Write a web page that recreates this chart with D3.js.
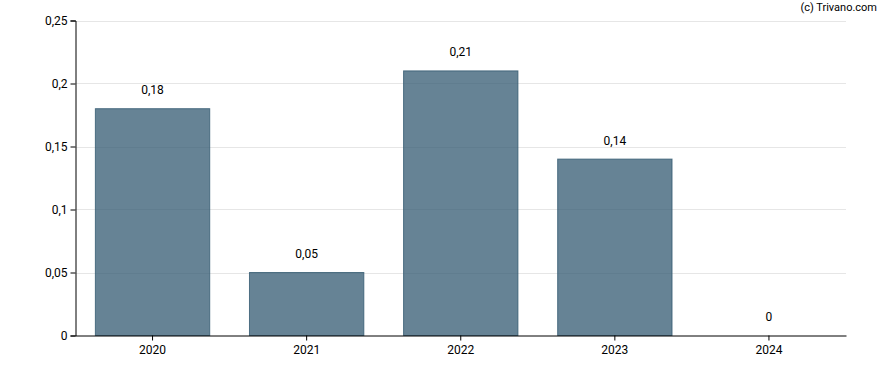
<!DOCTYPE html>
<html><head><meta charset="utf-8">
<script src="https://cdn.jsdelivr.net/npm/d3@7"></script>
<style>body{margin:0;background:#fff}svg{display:block;font-family:Roboto,sans-serif}</style>
</head><body>
<svg id="c" width="888" height="370"></svg>
<script>
const categories = ["2020","2021","2022","2023","2024"];
const values = [0.18, 0.05, 0.21, 0.14, 0];
const yTicks = [0, 0.05, 0.1, 0.15, 0.2, 0.25];
const yTickLabels = ["0","0,05","0,1","0,15","0,2","0,25"];
const valueLabels = ["0,18","0,05","0,21","0,14","0"];

const svg = d3.select("#c");
const mLeft = 75.5, mRight = 846, mTop = 20.5, mBottom = 335.5;
const x = d3.scaleBand().domain(categories).range([mLeft, mRight]).paddingInner(0.258).paddingOuter(0.129);
const y = d3.scaleLinear().domain([0, 0.25]).range([mBottom, mTop]);

// grid
svg.append("g").selectAll("line").data(yTicks.filter(d => d > 0)).join("line")
  .attr("x1", mLeft).attr("x2", mRight)
  .attr("y1", d => Math.round(y(d)) + 0.5).attr("y2", d => Math.round(y(d)) + 0.5)
  .attr("stroke", "#e6e6e6").attr("stroke-width", 1);

// bars
svg.append("g").selectAll("rect").data(values).join("rect")
  .attr("x", (d, i) => x(categories[i]))
  .attr("width", x.bandwidth())
  .attr("y", d => y(d))
  .attr("height", d => y(0) - y(d))
  .attr("fill", "#335a71").attr("fill-opacity", 0.75)
  .attr("stroke", "#335a71").attr("stroke-opacity", 0.8).attr("stroke-width", 1)
  .style("display", d => d > 0 ? null : "none");

// value labels
svg.append("g").selectAll("text").data(values).join("text")
  .attr("x", (d, i) => x(categories[i]) + x.bandwidth() / 2)
  .attr("y", d => y(d) - 14.5)
  .attr("text-anchor", "middle").attr("font-size", 12).attr("fill", "#000")
  .text((d, i) => valueLabels[i]);

// y axis
const yAxis = svg.append("g").attr("transform", `translate(${mLeft},0)`)
  .call(d3.axisLeft(y).tickValues(yTicks).tickSize(5).tickFormat((d, i) => yTickLabels[i]));
yAxis.select(".domain").attr("stroke", "#000");
yAxis.selectAll("text").attr("font-size", 12).attr("font-family", "Roboto, sans-serif").attr("fill", "#000");

// x axis
const xAxis = svg.append("g").attr("transform", `translate(0,${mBottom})`)
  .call(d3.axisBottom(x).tickSize(5).tickSizeOuter(0));
xAxis.select(".domain").attr("stroke", "#000");
xAxis.selectAll("text").attr("font-size", 12).attr("font-family", "Roboto, sans-serif").attr("fill", "#000").attr("dy", "0.9em");

svg.append("text").attr("x", 877).attr("y", 11).attr("text-anchor", "end")
  .attr("font-size", 11).attr("fill", "#000").text("(c) Trivano.com");
</script>
</body></html>
